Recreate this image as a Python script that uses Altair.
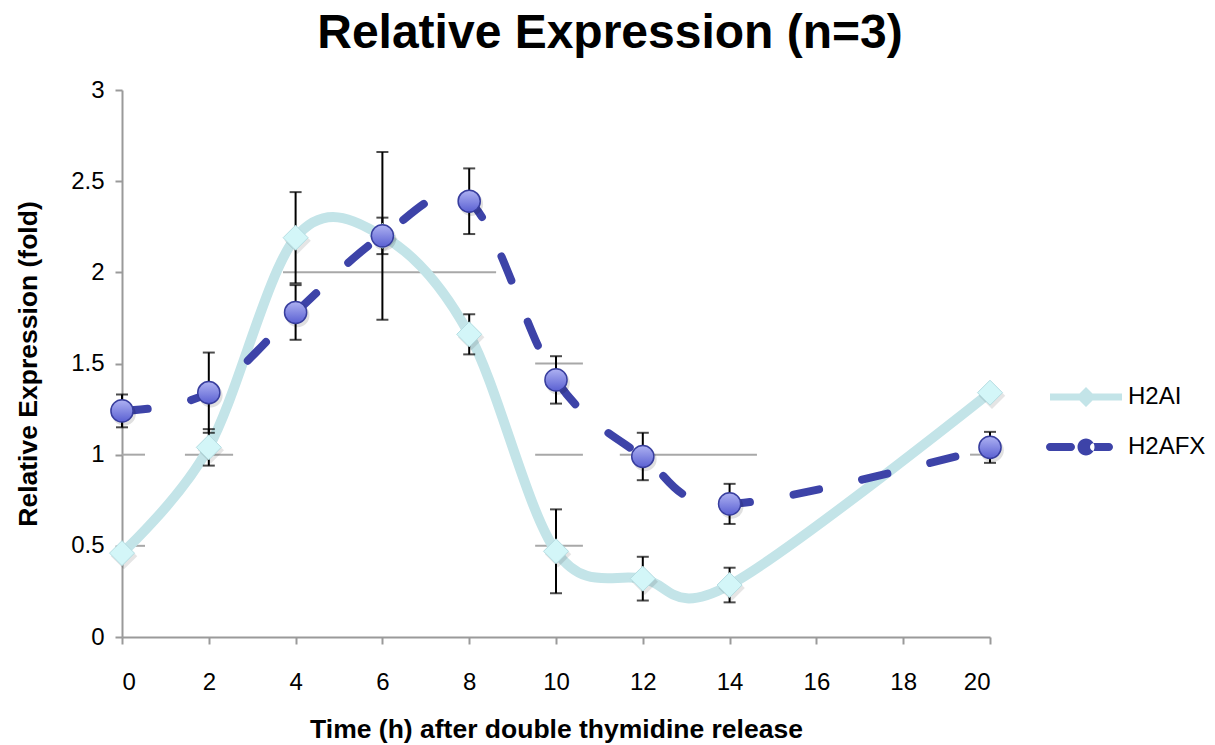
import altair as alt
import pandas as pd

# Sampling times (h) after double thymidine release
hours = [0, 2, 4, 6, 8, 10, 12, 14, 20]

# Mean relative expression (fold) and SD for each histone variant
h2ai = [0.46, 1.04, 2.19, 2.20, 1.66, 0.47, 0.32, 0.285, 1.34]
h2ai_sd = [0.02, 0.10, 0.25, 0.10, 0.11, 0.23, 0.12, 0.095, 0.02]
h2afx = [1.24, 1.34, 1.78, 2.20, 2.39, 1.41, 0.99, 0.73, 1.04]
h2afx_sd = [0.09, 0.22, 0.15, 0.46, 0.18, 0.13, 0.13, 0.11, 0.085]

series = ["H2AI", "H2AFX"]

# Short gray reference segments at half-unit levels
guide_level = [1.0, 0.5, 1.0, 2.0, 1.5, 1.0, 0.5, 1.0, 1.0]
guide_from = [0.0, 0.0, 1.45, 3.71, 9.52, 9.52, 9.52, 11.47, 19.54]
guide_to = [0.53, 0.53, 2.56, 8.62, 10.62, 10.62, 10.62, 14.63, 20.0]

x_ticks = list(range(0, 21, 2))
y_ticks = [0, 0.5, 1, 1.5, 2, 2.5, 3]

FONT = "Liberation Sans"
AI_LINE = "#c3e4e8"
AI_FILL = "#d3f6f8"
AFX_LINE = "#3d43a8"

data = pd.DataFrame({
    "hour": hours * 2,
    "value": h2ai + h2afx,
    "sd": h2ai_sd + h2afx_sd,
    "series": [series[0]] * len(hours) + [series[1]] * len(hours),
})
guides = pd.DataFrame({"level": guide_level, "start": guide_from, "end": guide_to})

X_TITLE = "Time (h) after double thymidine release"
Y_TITLE = "Relative Expression (fold)"
x_scale = alt.Scale(domain=[0, 20], nice=False, zero=False)
y_scale = alt.Scale(domain=[0, 3], nice=False)
x_axis = alt.Axis(values=x_ticks, grid=False, tickSize=7, labelPadding=26,
                  titlePadding=22, format="d")
y_axis = alt.Axis(values=y_ticks, grid=False, tickSize=7, labelPadding=11,
                  titlePadding=28, format="~g")


def xq(field):
    return alt.X(f"{field}:Q", scale=x_scale, axis=x_axis, title=X_TITLE)


def yq(field):
    return alt.Y(f"{field}:Q", scale=y_scale, axis=y_axis, title=Y_TITLE)


base = alt.Chart(data)
ai = base.transform_filter(alt.datum.series == series[0])
afx = base.transform_filter(alt.datum.series == series[1])

guide_layer = alt.Chart(guides).mark_rule(color="#a8a8a8", strokeWidth=2).encode(
    x=xq("start"), x2="end", y=yq("level")
)

ai_line = ai.mark_line(interpolate="cardinal", color=AI_LINE, strokeWidth=10,
                       strokeCap="round").encode(x=xq("hour"), y=yq("value"))

afx_line = afx.mark_line(interpolate="cardinal", color=AFX_LINE, strokeWidth=8,
                         strokeCap="round", strokeDash=[26, 44]).encode(
    x=xq("hour"), y=yq("value"))

err = base.transform_calculate(
    lo="datum.value - datum.sd", hi="datum.value + datum.sd"
).mark_errorbar(ticks={"size": 12, "thickness": 2, "color": "black"},
                thickness=2, color="black").encode(
    x=xq("hour"), y=yq("lo"), y2="hi:Q")

ai_shadow = ai.mark_point(shape="diamond", filled=True, color="#000000",
                          opacity=0.10, size=700, xOffset=2, yOffset=3).encode(
    x=xq("hour"), y=yq("value"))
afx_shadow = afx.mark_point(shape="circle", filled=True, color="#000000",
                            opacity=0.12, size=560, xOffset=2, yOffset=3).encode(
    x=xq("hour"), y=yq("value"))

ai_pts = ai.mark_point(shape="diamond", filled=True, fill=AI_FILL, stroke="#b5dde2",
                       strokeWidth=1, size=625, opacity=1).encode(
    x=xq("hour"), y=yq("value"))

ball = alt.LinearGradient(
    gradient="linear",
    stops=[alt.GradientStop(color="#aeb2f2", offset=0),
           alt.GradientStop(color="#5a60d2", offset=1)],
    x1=0, x2=0, y1=0, y2=1,
)
afx_pts = afx.mark_point(shape="circle", filled=True, fill=ball, stroke="#383e9e",
                         strokeWidth=1.5, size=490, opacity=1).encode(
    x=xq("hour"), y=yq("value"))

# Legend keys: line with marker, drawn as custom symbol paths
ai_key = ("M-3.6,-0.35 L3.6,-0.35 L3.6,0.35 L-3.6,0.35 Z "
          "M-1.0,0 L0,-1.0 L1.0,0 L0,1.0 Z")
afx_key = ("M-3.6,-0.4 L-1.5,-0.4 A0.4,0.4 0 0,1 -1.5,0.4 L-3.6,0.4 A0.4,0.4 0 0,1 -3.6,-0.4 Z "
           "M-0.85,0 A0.85,0.85 0 1,0 0.85,0 A0.85,0.85 0 1,0 -0.85,0 Z "
           "M0.8,-0.4 L2.3,-0.4 A0.4,0.4 0 0,1 2.3,0.4 L0.8,0.4 A0.4,0.4 0 0,1 0.8,-0.4 Z")

legend_spec = alt.Legend(
    title=None, orient="none", legendX=952, legendY=295, padding=0,
    symbolSize=400, symbolStrokeWidth=0, symbolOpacity=1,
    labelFont=FONT, labelFontSize=24, labelColor="black", labelOffset=30,
    rowPadding=26,
)
legend_layer = alt.Chart(pd.DataFrame({"series": series})).mark_point(
    filled=True, size=400, opacity=1
).encode(
    color=alt.Color("series:N", scale=alt.Scale(domain=series, range=[AI_LINE, AFX_LINE]),
                    legend=legend_spec),
    shape=alt.Shape("series:N", scale=alt.Scale(domain=series, range=[ai_key, afx_key]),
                    legend=legend_spec),
).transform_filter("false")

chart = alt.layer(
    guide_layer, ai_line, afx_line, err, ai_shadow, afx_shadow, ai_pts, afx_pts, legend_layer
).properties(
    width=868,
    height=547,
    autosize=alt.AutoSizeParams(type="none"),
    padding={"left": 122, "top": 90, "right": 225, "bottom": 108},
    title=alt.TitleParams(
        text="Relative Expression (n=3)", font=FONT, fontSize=48, fontWeight="bold",
        color="black", anchor="middle", dx=54, offset=-18, baseline="alphabetic",
    ),
).configure_view(stroke=None).configure_axis(
    domainColor="#9a9a9a", domainWidth=2, tickColor="#9a9a9a", tickWidth=2,
    labelFont=FONT, labelFontSize=24, labelColor="black",
    titleFont=FONT, titleFontSize=26.5, titleFontWeight="bold", titleColor="black",
)

chart.save("out.html", embed_options={"renderer": "svg", "actions": False})
